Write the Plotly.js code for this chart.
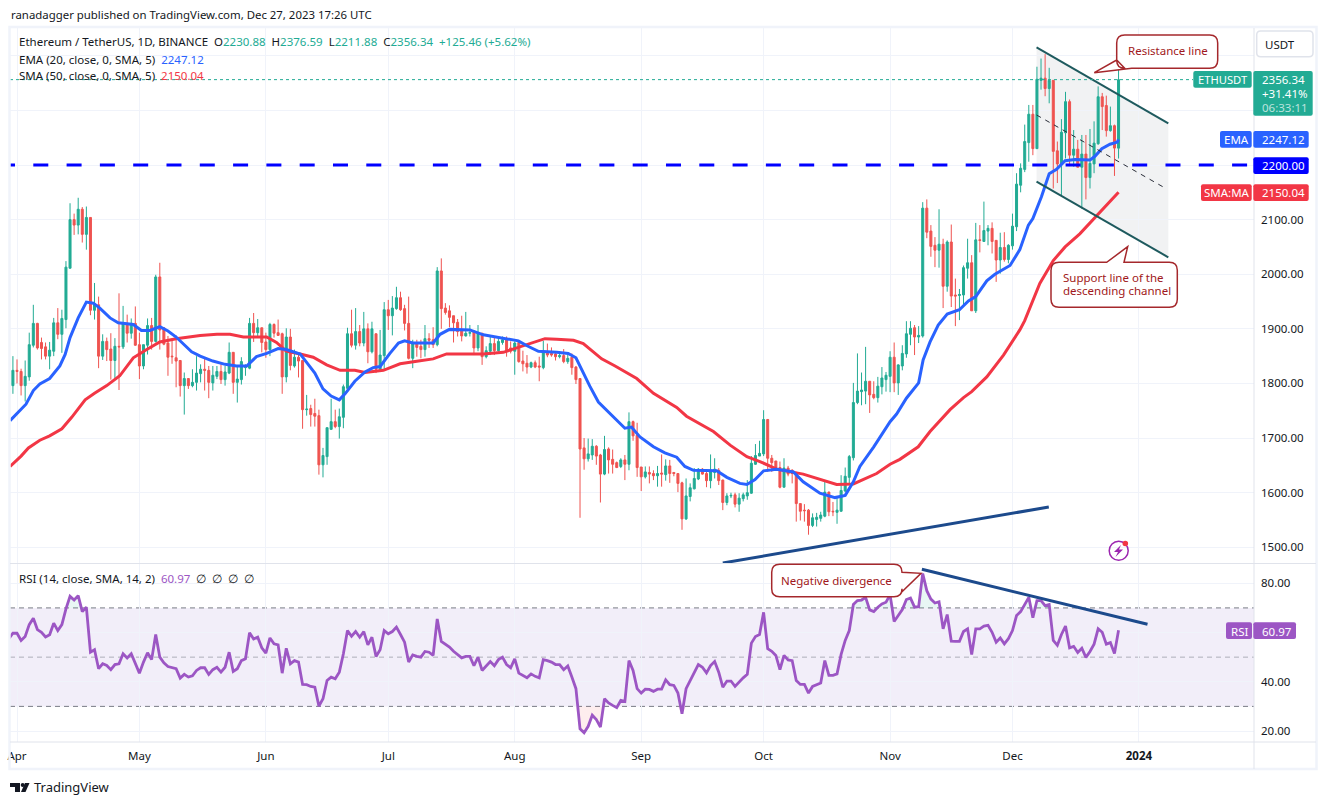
<!DOCTYPE html>
<html>
<head>
<meta charset="utf-8">
<title>ETHUSDT</title>
<script src="https://cdn.plot.ly/plotly-3.0.1.min.js"></script>
<style>
    body { margin: 0; background: #fff; }
</style>
</head>
<body>
<div id="chart"></div>
<script>
// daily candles, first one is Mar 31 2023, last one Dec 27 2023
var firstCandle = '2023-03-31';

var opens = [
    1796,1824,1822,1796,1812,1870,1910,1875,1867,1850,
    1859,1911,1890,1917,2011,2100,2090,2119,2073,2104,
    1934,1944,1850,1877,1863,1842,1868,1867,1910,1892,
    1910,1871,1832,1870,1906,1877,1995,1902,1874,1850,
    1847,1842,1796,1809,1796,1802,1818,1826,1824,1801,
    1813,1822,1807,1819,1857,1802,1807,1829,1828,1910,
    1893,1902,1876,1862,1908,1893,1891,1812,1885,1832,
    1848,1842,1752,1754,1745,1741,1651,1666,1716,1730,
    1721,1738,1791,1891,1870,1895,1874,1900,1858,1891,
    1826,1851,1935,1924,1937,1957,1937,1910,1846,1873,
    1868,1862,1882,1880,1871,2006,1938,1933,1924,1912,
    1897,1887,1892,1896,1865,1892,1849,1859,1873,1860,
    1875,1882,1865,1859,1875,1841,1837,1830,1838,1832,
    1829,1857,1855,1854,1849,1851,1840,1848,1830,1809,
    1682,1662,1669,1685,1669,1634,1680,1661,1655,1648,
    1660,1652,1730,1705,1647,1629,1637,1635,1631,1636,
    1633,1649,1637,1635,1618,1552,1593,1607,1625,1643,
    1635,1622,1637,1641,1623,1582,1594,1596,1579,1589,
    1594,1599,1652,1667,1671,1734,1663,1658,1646,1610,
    1645,1641,1637,1580,1568,1568,1540,1551,1553,1557,
    1601,1566,1564,1566,1603,1628,1664,1765,1785,1786,
    1804,1780,1774,1794,1807,1813,1848,1801,1832,1854,
    1890,1902,1885,1887,2121,2079,2053,2044,2055,1978,
    2059,1962,1961,1962,2011,2021,1933,2063,2060,2079,
    2084,2062,2026,2049,2027,2052,2087,2163,2192,2241,
    2293,2230,2355,2359,2340,2355,2226,2202,2259,2316,
    2218,2229,2196,2220,2177,2202,2239,2325,2309,2263,
    2272,2230.88
];
var highs = [
    1850,1844,1827,1842,1893,1944,1911,1884,1875,1876,
    1920,1938,1935,2024,2130,2111,2140,2123,2124,2104,
    1984,1959,1890,1884,1892,1883,1965,1942,1926,1919,
    1941,1893,1871,1919,1920,1999,2021,1902,1887,1882,
    1888,1843,1820,1809,1826,1850,1835,1847,1832,1832,
    1832,1835,1832,1875,1857,1832,1848,1835,1920,1929,
    1918,1902,1893,1911,1910,1917,1893,1901,1900,1862,
    1857,1842,1779,1761,1772,1752,1682,1719,1772,1752,
    1754,1798,1902,1935,1938,1907,1931,1910,1913,1891,
    1898,1949,1953,1960,1977,1968,1944,1959,1880,1880,
    1880,1907,1892,1903,2013,2029,1947,1943,1924,1918,
    1924,1931,1907,1896,1907,1892,1868,1886,1885,1886,
    1886,1886,1877,1877,1875,1860,1852,1840,1842,1849,
    1878,1873,1866,1857,1857,1863,1855,1855,1832,1809,
    1700,1699,1698,1687,1671,1704,1683,1679,1657,1663,
    1669,1747,1732,1728,1647,1648,1648,1641,1649,1670,
    1661,1660,1637,1635,1620,1626,1617,1645,1645,1645,
    1641,1670,1663,1645,1624,1599,1600,1600,1599,1600,
    1623,1667,1689,1695,1751,1735,1669,1658,1657,1663,
    1649,1643,1638,1580,1579,1570,1562,1563,1565,1623,
    1602,1583,1590,1632,1646,1669,1801,1855,1820,1867,
    1804,1804,1812,1830,1821,1859,1875,1835,1870,1914,
    1914,1907,1905,2132,2137,2090,2068,2119,2065,2062,
    2091,1992,1973,2016,2065,2035,2094,2090,2133,2090,
    2095,2062,2076,2077,2055,2111,2185,2203,2274,2310,
    2310,2380,2395,2403,2378,2355,2243,2284,2334,2320,
    2264,2246,2255,2255,2266,2280,2344,2332,2327,2307,
    2274,2376.59
];
var lows = [
    1781,1800,1778,1767,1805,1866,1862,1844,1844,1826,
    1850,1881,1856,1901,2011,2072,2073,2058,2045,1925,
    1917,1828,1843,1841,1807,1807,1788,1863,1875,1882,
    1869,1808,1826,1853,1862,1875,1862,1870,1814,1836,
    1793,1776,1743,1790,1793,1787,1802,1787,1773,1787,
    1808,1799,1796,1817,1781,1765,1798,1814,1826,1876,
    1884,1857,1847,1850,1884,1887,1781,1802,1824,1829,
    1811,1717,1741,1721,1721,1633,1628,1651,1715,1718,
    1699,1718,1791,1866,1862,1868,1868,1837,1855,1819,
    1825,1825,1898,1888,1935,1933,1897,1844,1828,1849,
    1846,1849,1865,1865,1868,1900,1926,1903,1875,1886,
    1877,1886,1886,1852,1859,1834,1846,1852,1852,1858,
    1871,1849,1855,1816,1838,1822,1818,1828,1828,1804,
    1826,1848,1849,1842,1846,1837,1836,1816,1799,1554,
    1642,1657,1660,1651,1582,1632,1635,1635,1645,1645,
    1623,1641,1695,1629,1603,1626,1617,1623,1611,1611,
    1622,1618,1630,1601,1532,1550,1584,1606,1623,1633,
    1610,1608,1626,1614,1568,1577,1590,1573,1565,1584,
    1587,1598,1651,1667,1667,1638,1638,1641,1608,1610,
    1630,1617,1547,1549,1547,1523,1537,1538,1547,1555,
    1557,1557,1543,1565,1601,1614,1659,1762,1760,1762,
    1746,1771,1765,1780,1785,1784,1784,1779,1824,1847,
    1870,1852,1874,1884,2066,2032,2013,2012,1938,1968,
    1940,1905,1916,1943,1992,1933,1929,2040,2060,2053,
    2038,1986,2001,2023,2020,2045,2079,2150,2187,2206,
    2218,2230,2338,2326,2313,2157,2167,2145,2212,2198,
    2197,2196,2120,2137,2157,2185,2237,2264,2252,2261,
    2180,2211.88
];
var closes = [
    1824,1822,1796,1813,1871,1910,1865,1864,1850,1861,
    1911,1890,1919,2013,2100,2090,2119,2073,2104,1934,
    1946,1850,1877,1862,1842,1868,1867,1910,1892,1910,
    1870,1832,1871,1906,1877,1995,1898,1872,1848,1849,
    1841,1796,1809,1796,1802,1819,1826,1824,1802,1815,
    1822,1807,1821,1857,1802,1808,1840,1832,1910,1893,
    1902,1875,1862,1908,1892,1888,1812,1885,1833,1848,
    1841,1752,1753,1743,1740,1651,1668,1719,1730,1721,
    1739,1794,1891,1870,1895,1874,1900,1858,1900,1826,
    1852,1935,1924,1938,1957,1935,1910,1846,1873,1866,
    1862,1882,1879,1871,2006,1937,1930,1921,1911,1895,
    1887,1892,1893,1865,1892,1849,1860,1873,1860,1877,
    1880,1860,1859,1874,1840,1836,1830,1838,1830,1830,
    1859,1852,1852,1849,1851,1840,1846,1829,1807,1680,
    1662,1671,1685,1667,1634,1679,1660,1652,1646,1660,
    1652,1730,1704,1646,1629,1638,1634,1631,1635,1634,
    1649,1635,1635,1617,1552,1594,1609,1626,1643,1634,
    1622,1638,1643,1622,1582,1594,1595,1579,1590,1596,
    1600,1654,1668,1672,1734,1663,1655,1645,1610,1645,
    1634,1635,1580,1566,1567,1540,1554,1555,1559,1601,
    1565,1565,1568,1604,1630,1666,1765,1786,1788,1804,
    1779,1774,1795,1810,1815,1848,1801,1834,1855,1891,
    1901,1885,1888,2121,2077,2051,2044,2055,1978,2059,
    1960,1960,1963,2012,2021,1933,2063,2062,2080,2084,
    2060,2026,2049,2027,2053,2088,2165,2194,2243,2293,
    2230,2357,2359,2340,2355,2225,2202,2260,2316,2218,
    2229,2196,2220,2177,2203,2240,2325,2307,2263,2272,
    2231,2356.34
];

// rsi, one value per day, starts one day before the first candle
var rsiValues = [
    57.5,59.7,59.7,56.8,58.4,63.2,65.8,61.2,60.1,58.2,
    59.1,63.8,60.8,63.2,69.6,74.7,73.2,75,68.5,70.3,
    52,53,45.3,47.3,46.6,44.9,47,47.3,51.4,49.7,
    51.4,47.3,43.5,48,51.8,49,59.2,50,47.7,46.2,
    45.9,45.3,41.5,43,41.9,42.4,44.6,45.7,45.7,43,
    44.9,45.9,43.9,45.9,52,44.2,45.3,48.6,49.3,59.9,
    57.4,58.1,53.8,51.6,57.8,55.4,55,43.5,53.6,47.3,
    48.6,48,38.9,38.8,38.1,37.8,30.1,33.1,40.5,41.9,
    41.2,43.9,51.4,60.8,58.5,60.4,58.1,60.4,55,58.1,
    50.3,53,60.8,59.5,60.4,62.2,59.2,56.1,48,50.9,
    50.3,50,52.3,52,50.7,65.5,56.4,55.4,54.1,52.4,
    50.9,49.7,50.3,50.3,46.5,50,44.6,46.2,48.2,46.5,
    49,50,47,45.7,49.3,43.5,42.6,41.6,43.2,42.2,
    41.6,49,48.6,48,47,47,44.9,46.4,41.9,37.2,
    20.9,19.3,21.9,26.4,24.6,21.6,33.1,31.4,30.4,29.5,
    32.4,32,48.6,44.6,37.2,35.4,37,36.9,36.1,37,
    37,40.8,38.8,38.5,35.4,27,37.2,40.3,43.9,47,
    45.9,43.6,46.6,48.2,43.9,37.8,40.3,40.3,38.1,39.9,
    41.6,43,55.7,58.4,59.2,68.2,53.4,52.4,50.7,44.9,
    50.7,48.9,48.6,40.5,38.9,38.9,35.4,38.1,38.8,39.5,
    48.6,42.6,42.6,43.2,51.1,56.8,60.8,71.4,73,73.2,
    74.3,69.2,68.5,70.3,71.6,72.3,75.3,64.5,66.9,69.3,
    73.4,74,70.3,70.5,84,77,73.6,72,72.5,61.5,
    67.3,56.5,56.4,56.4,60.4,61.5,51.1,61.5,61.5,62.6,
    62.9,60.1,56.1,57.8,55.4,57.5,60.8,66.9,68.5,71.4,
    74.3,66,73,73,70.9,71.4,56.8,54.8,59.2,62.6,
    53.8,54.4,51.9,53.6,49.9,52.3,55.3,61.5,60.1,55.3,
    55.9,51.5,60.97
];

// moving averages read at the turning points, day = days after Apr 1
var emaDays = [
    -1.7,0.7,2.2,4,5.6,8,10.5,11.8,13,15,17,18.7,20.3,22.8,24.8,28.5,30.5,32.6,35,37,
    39,42.8,44.9,48,51,53.8,56.3,58.7,61.2,64,66,69.4,73,75,77,79,80.4,82.8,85.3,87.3,
    89,91.4,93.5,95,97,102,103.7,106,111,114.3,119.2,122.9,125,127.8,132.3,135.1,137,138.8,140.4,142.5,
    145.3,149,150.6,152.7,156,158.8,161.7,163.7,165.8,171.5,174,177.2,178.9,180.9,183,186.2,190.3,192.7,196.8,200.5,
    203,205,206.6,210,214,215.6,218,221,222.1,223.8,225.8,228,231,233.2,235,237.7,239.7,243.4,245.8,247.9,
    249,251.1,253,254.8,256.9,259.3,263,264.2,265.9,267.9,269.7,270
];
var emaValues = [
    1732,1750,1762,1787,1799,1809,1832,1853,1884,1920,1949,1947,1938,1920,1911,1908,1897,1897,1904,1896,
    1885,1858,1850,1841,1835,1832,1832,1849,1855,1864,1862,1854,1819,1790,1777,1770,1781,1804,1821,1829,
    1831,1855,1874,1878,1874,1874,1890,1899,1898,1889,1883,1878,1869,1859,1857,1855,1847,1819,1795,1766,
    1745,1718,1720,1702,1684,1673,1665,1648,1641,1640,1628,1617,1615,1624,1640,1643,1638,1620,1599,1591,
    1595,1620,1648,1684,1730,1744,1773,1801,1843,1876,1907,1927,1935,1951,1959,1988,2000,2016,2045,2090,
    2102,2142,2184,2192,2208,2210,2209,2216,2230,2238,2242,2247.12
];
var smaDays = [
    -1.7,1,2.8,5.6,8,11,13.4,16.7,19,22,25.2,28.5,31.8,35,39,44.9,49,52.2,55.5,61.2,
    63.6,66,69.4,72.6,75.9,79.2,82.8,85.3,89.8,93.9,98.4,102,105.3,109.4,114.3,119.2,122.5,125.7,129.4,132.3,
    136.4,138.8,140.4,143.3,146.6,149,151.9,156,161.7,164.1,170.7,174.8,178.9,182.1,186.2,192.7,197.6,200.9,205,210.7,
    214,216.4,220.9,223.8,228.7,232,234,237.7,241.8,245.8,247,250.7,254,256.9,260.5,264.6,267.9,270
];
var smaValues = [
    1648,1667,1682,1696,1704,1717,1738,1770,1782,1796,1814,1847,1862,1876,1882,1888,1890,1890,1885,1885,
    1875,1859,1854,1848,1834,1824,1824,1820,1824,1836,1841,1845,1854,1854,1854,1857,1865,1873,1882,1881,
    1879,1873,1863,1845,1832,1821,1809,1782,1756,1740,1712,1687,1666,1657,1643,1634,1623,1615,1616,1635,
    1652,1661,1684,1712,1752,1774,1785,1812,1852,1898,1915,1983,2025,2050,2074,2107,2135,2150.04
];

var priceTicks = [1500,1600,1700,1800,1900,2000,2100,2200,2300,2400];
var priceTickText = ['1500.00','1600.00','1700.00','1800.00','1900.00','2000.00','2100.00','','',''];
var rsiTicks = [20,40,60,80];
var rsiTickText = ['20.00','40.00','','80.00'];
var monthTicks = ['2023-04-01','2023-05-01','2023-06-01','2023-07-01','2023-08-01','2023-09-01','2023-10-01','2023-11-01','2023-12-01','2024-01-01'];
var monthText = ['Apr','May','Jun','Jul','Aug','Sep','Oct','Nov','Dec','<b>2024</b>'];

var W = 1327, H = 805;
var FONT = '"Noto Sans", sans-serif';
var TXT = '#131722', UP = '#22ab94', DOWN = '#ef5350', EMA = '#2962ff', SMA = '#f23645', RSI = '#9c56c4';
var CALLOUT = '#a5282c', GRID = '#f0f3fa', EDGE = '#e0e3eb';

function dayToDate(d) {
    return new Date(Date.UTC(2023, 3, 1) + d * 86400000).toISOString().slice(0, 16).replace('T', ' ');
}
function daysFrom(start, n) {
    var out = [], t = Date.parse(start + 'T00:00:00Z');
    for (var i = 0; i < n; i++) {
        out.push(new Date(t + i * 86400000).toISOString().slice(0, 10));
    }
    return out;
}

var candleDates = daysFrom(firstCandle, closes.length);
var rsiDates = daysFrom('2023-03-30', rsiValues.length);

// pixel helpers for the drawing tools, all in paper coords
function pt(x, y) { return (x / W).toFixed(5) + ',' + (1 - y / H).toFixed(5); }

function boxPath(x0, y0, x1, y1, r, extra) {
    extra = extra || {};
    var p = 'M' + pt(x0 + r, y0);
    (extra.top || []).forEach(function (q) { p += ' L' + pt(q[0], q[1]); });
    p += ' L' + pt(x1 - r, y0) + ' Q' + pt(x1, y0) + ' ' + pt(x1, y0 + r);
    (extra.right || []).forEach(function (q) { p += ' L' + pt(q[0], q[1]); });
    p += ' L' + pt(x1, y1 - r) + ' Q' + pt(x1, y1) + ' ' + pt(x1 - r, y1);
    (extra.bottom || []).forEach(function (q) { p += ' L' + pt(q[0], q[1]); });
    p += ' L' + pt(x0 + r, y1) + ' Q' + pt(x0, y1) + ' ' + pt(x0, y1 - r);
    (extra.left || []).forEach(function (q) { p += ' L' + pt(q[0], q[1]); });
    p += ' L' + pt(x0, y0 + r) + ' Q' + pt(x0, y0) + ' ' + pt(x0 + r, y0) + ' Z';
    return p;
}
function paperShape(path, fill, lineColor, lineWidth) {
    return {
        type: 'path', xref: 'paper', yref: 'paper', path: path, fillcolor: fill, layer: 'above',
        line: {color: lineColor || fill, width: lineWidth === undefined ? 0 : lineWidth}
    };
}
function circle(cx, cy, r, fill, lineColor, lineWidth) {
    return {
        type: 'circle', xref: 'paper', yref: 'paper', layer: 'above', fillcolor: fill,
        x0: (cx - r) / W, x1: (cx + r) / W, y0: 1 - (cy + r) / H, y1: 1 - (cy - r) / H,
        line: {color: lineColor || fill, width: lineWidth || 0}
    };
}
function text(x, y, str, size, color, anchor, extra) {
    var a = {
        xref: 'paper', yref: 'paper', x: x / W, y: 1 - y / H, text: str, showarrow: false,
        xanchor: anchor || 'left', yanchor: 'middle', borderpad: 0,
        font: {family: FONT, size: size, color: color || TXT}
    };
    return Object.assign(a, extra || {});
}
function span(color, str) { return '<span style="color:' + color + '">' + str + '</span>'; }

var traces = [
    {
        type: 'candlestick', x: candleDates, open: opens, high: highs, low: lows, close: closes,
        xaxis: 'x', yaxis: 'y', whiskerwidth: 0, hoverinfo: 'skip',
        increasing: {line: {color: UP, width: 1}, fillcolor: UP},
        decreasing: {line: {color: DOWN, width: 1}, fillcolor: DOWN}
    },
    // 2200 level, starts left of the pane so the dashes fall right
    {
        type: 'scatter', mode: 'lines', x: [dayToDate(-4.17), dayToDate(303.2)], y: [2200, 2200],
        xaxis: 'x', yaxis: 'y', hoverinfo: 'skip',
        line: {color: '#0000ff', width: 3, dash: '15px,18.3px'}
    },
    {
        type: 'scatter', mode: 'lines', x: smaDays.map(dayToDate), y: smaValues,
        xaxis: 'x', yaxis: 'y', hoverinfo: 'skip', line: {color: SMA, width: 3}
    },
    {
        type: 'scatter', mode: 'lines', x: emaDays.map(dayToDate), y: emaValues,
        xaxis: 'x', yaxis: 'y', hoverinfo: 'skip', line: {color: EMA, width: 3}
    },
    // pale fill where rsi leaves the 30-70 band
    {
        type: 'scatter', mode: 'lines', x: rsiDates, y: rsiValues.map(function () { return 70; }),
        xaxis: 'x', yaxis: 'y2', hoverinfo: 'skip', line: {width: 0}
    },
    {
        type: 'scatter', mode: 'lines', x: rsiDates, y: rsiValues.map(function (v) { return Math.max(v, 70); }),
        xaxis: 'x', yaxis: 'y2', hoverinfo: 'skip', line: {width: 0}, fill: 'tonexty', fillcolor: 'rgba(34,171,148,0.1)'
    },
    {
        type: 'scatter', mode: 'lines', x: rsiDates, y: rsiValues.map(function () { return 30; }),
        xaxis: 'x', yaxis: 'y2', hoverinfo: 'skip', line: {width: 0}
    },
    {
        type: 'scatter', mode: 'lines', x: rsiDates, y: rsiValues.map(function (v) { return Math.min(v, 30); }),
        xaxis: 'x', yaxis: 'y2', hoverinfo: 'skip', line: {width: 0}, fill: 'tonexty', fillcolor: 'rgba(242,54,69,0.09)'
    },
    {
        type: 'scatter', mode: 'lines', x: rsiDates, y: rsiValues,
        xaxis: 'x', yaxis: 'y2', hoverinfo: 'skip', line: {color: RSI, width: 2.8}
    }
];

function hLine(yref, value, color, dash) {
    return {
        type: 'line', xref: 'x domain', yref: yref, x0: 0, x1: 1, y0: value, y1: value, layer: 'below',
        line: {color: color, width: 1, dash: dash}
    };
}
function trendLine(yref, d0, v0, d1, v1, color, width, dash) {
    return {
        type: 'line', xref: 'x', yref: yref, layer: 'above',
        x0: dayToDate(d0), y0: v0, x1: dayToDate(d1), y1: v1,
        line: {color: color, width: width, dash: dash || 'solid'}
    };
}
function channelPath() {
    var fmt = function (d, v) { return dayToDate(d).replace(' ', '_') + ':00,' + v; };
    return 'M' + fmt(249.9, 2415.5) + ' L' + fmt(282.2, 2276.4) + ' L' + fmt(282.2, 2031) + ' L' + fmt(249.9, 2169.4) + ' Z';
}

var shapes = [
    // rsi band
    {type: 'rect', xref: 'x domain', yref: 'y2', x0: 0, x1: 1, y0: 30, y1: 70, layer: 'below', fillcolor: 'rgba(126,87,194,0.1)', line: {width: 0}},
    hLine('y2', 70, '#787b86', '5px,4px'),
    hLine('y2', 50, 'rgba(120,123,134,0.55)', '5px,4px'),
    hLine('y2', 30, '#787b86', '5px,4px'),
    // descending channel
    {type: 'path', xref: 'x', yref: 'y', path: channelPath(), layer: 'below', fillcolor: 'rgba(120,130,140,0.1)', line: {width: 0}},
    trendLine('y', 249.9, 2415.5, 282.2, 2276.4, '#1e5a5e', 2),
    trendLine('y', 249.9, 2169.4, 282.2, 2031, '#1e5a5e', 2),
    trendLine('y', 249.9, 2291.6, 281.7, 2156.6, '#2a2e39', 1, '5px,5px'),
    // navy trend lines
    trendLine('y', 173, 1471.2, 252.9, 1573.8, '#1c4a8c', 3),
    trendLine('y2', 221.8, 85.7, 277.1, 63.35, '#1c4a8c', 3),
    // last price dotted line
    {type: 'line', xref: 'x domain', yref: 'y', x0: 0, x1: 0.951, y0: 2356.34, y1: 2356.34, layer: 'above', line: {color: UP, width: 1, dash: 'dot'}},
    // frame
    {type: 'rect', xref: 'paper', yref: 'paper', x0: 9.5 / W, x1: 1316.5 / W, y0: 1 - 769 / H, y1: 1 - 27 / H, layer: 'above', line: {color: GRID, width: 2.5}},
    {type: 'line', xref: 'paper', yref: 'paper', x0: 1254 / W, x1: 1254 / W, y0: 1 - 769 / H, y1: 1 - 28 / H, layer: 'above', line: {color: EDGE, width: 1}},
    {type: 'line', xref: 'paper', yref: 'paper', x0: 10 / W, x1: 1316 / W, y0: 1 - 563.5 / H, y1: 1 - 563.5 / H, layer: 'above', line: {color: EDGE, width: 1}},
    {type: 'line', xref: 'paper', yref: 'paper', x0: 10 / W, x1: 1316 / W, y0: 1 - 742 / H, y1: 1 - 742 / H, layer: 'above', line: {color: EDGE, width: 1}},
    // callouts
    paperShape(boxPath(1116.7, 35, 1217.7, 68.3, 8, {bottom: [[1131.7, 68.3], [1094.3, 72.7], [1116.7, 60]]}), '#ffffff', CALLOUT, 1.5),
    paperShape(boxPath(1051, 262.3, 1177.3, 307.3, 8, {top: [[1106.7, 262.3], [1127.7, 246.7], [1124, 262.3]]}), '#ffffff', CALLOUT, 1.5),
    paperShape(boxPath(771.7, 564.3, 902, 596.7, 8, {right: [[902, 572.3], [921, 573.3], [902, 591.7]]}), '#ffffff', CALLOUT, 1.5),
    // price scale labels
    paperShape(boxPath(1256.7, 31, 1313, 56.7, 4), '#ffffff', EDGE, 1.5),
    paperShape(boxPath(1193.3, 71, 1251.7, 87.7, 2), UP),
    paperShape(boxPath(1253.3, 71, 1312.7, 115.7, 2), UP),
    paperShape(boxPath(1220, 131, 1251.7, 147.7, 2), EMA),
    paperShape(boxPath(1253.3, 131, 1308.7, 147.7, 2), EMA),
    paperShape(boxPath(1253.3, 157.3, 1308.7, 174, 2), '#0000ff'),
    paperShape(boxPath(1201, 184.3, 1251.7, 201, 2), SMA),
    paperShape(boxPath(1253.3, 184.3, 1308.7, 201, 2), SMA),
    paperShape(boxPath(1226, 622.3, 1252, 639, 2), RSI),
    paperShape(boxPath(1253.3, 622.3, 1296, 639, 2), RSI),
    // alert icon
    circle(1118.7, 550.7, 9.5, 'rgba(0,0,0,0)', '#9c27b0', 1.5),
    paperShape('M' + pt(1121, 545) + ' L' + pt(1114, 552) + ' L' + pt(1118, 552) + ' L' + pt(1115.5, 557) + ' L' + pt(1123, 549.5) + ' L' + pt(1119, 549.5) + ' Z', '#9c27b0'),
    circle(1125.3, 543.5, 2.8, '#f23645'),
    // logo
    paperShape('M' + pt(10, 783) + ' L' + pt(20, 783) + ' L' + pt(20, 792) + ' L' + pt(15, 792) + ' L' + pt(15, 787) + ' L' + pt(10, 787) + ' Z', TXT),
    circle(22.7, 785, 2, TXT),
    paperShape('M' + pt(25, 783) + ' L' + pt(29.5, 783) + ' L' + pt(25.5, 792) + ' L' + pt(21, 792) + ' Z', TXT)
];

var annotations = [
    text(10, 14, 'ranadagger published on TradingView.com, Dec 27, 2023 17:26 UTC', 11.4, TXT),
    text(18, 41, 'Ethereum / TetherUS, 1D, BINANCE  O' + span(UP, '2230.88') + '  H' + span(UP, '2376.59') + '  L' + span(UP, '2211.88') + '  C' + span(UP, '2356.34') + '  ' + span(UP, '+125.46 (+5.62%)'), 11.5, TXT),
    text(18, 59, 'EMA (20, close, 0, SMA, 5)  ' + span(EMA, '2247.12'), 11.5, TXT),
    text(18, 76, 'SMA (50, close, 0, SMA, 5)  ' + span(SMA, '2150.04'), 11.5, TXT),
    text(18, 578, 'RSI (14, close, SMA, 14, 2)  ' + span(RSI, '60.97') + '  ' + span('#131722', '∅  ∅  ∅  ∅'), 11.5, TXT),
    text(1168, 50.5, 'Resistance line', 11.5, '#a01820', 'center'),
    text(1061.5, 278, 'Support line of the', 11.5, '#a01820'),
    text(1061.5, 290, 'descending channel', 11.5, '#a01820'),
    text(836, 580, 'Negative divergence', 11.5, '#a01820', 'center'),
    text(1280, 44.5, 'USDT', 11.5, TXT, 'center'),
    text(1222.5, 79.5, 'ETHUSDT', 11.2, '#ffffff', 'center'),
    text(1261, 80, '2356.34', 11.5, '#ffffff'),
    text(1261, 94, '+31.41%', 11.5, '#ffffff'),
    text(1261, 108, '06:33:11', 11.5, 'rgba(255,255,255,0.7)'),
    text(1236, 139.5, 'EMA', 11.5, '#ffffff', 'center'),
    text(1261, 139.5, '2247.12', 11.5, '#ffffff'),
    text(1261, 165.5, '2200.00', 11.5, '#ffffff'),
    text(1226.5, 193, 'SMA:MA', 11.5, '#ffffff', 'center'),
    text(1261, 193, '2150.04', 11.5, '#ffffff'),
    text(1239, 631, 'RSI', 11.5, '#ffffff', 'center'),
    text(1261, 631, '60.97', 11.5, '#ffffff'),
    text(33, 787, 'TradingView', 13, TXT)
];

var layout = {
    width: W, height: H, margin: {l: 0, r: 0, t: 0, b: 0},
    paper_bgcolor: '#ffffff', plot_bgcolor: '#ffffff',
    showlegend: false, hovermode: false, dragmode: false,
    font: {family: FONT, size: 11.5, color: TXT},
    xaxis: {
        type: 'date', domain: [10 / W, 1254 / W], anchor: 'y2',
        range: [dayToDate(-1.716), dayToDate(303.2)],
        rangeslider: {visible: false},
        tickmode: 'array', tickvals: monthTicks, ticktext: monthText, ticks: '',
        showline: false, zeroline: false, showgrid: true, gridcolor: GRID, gridwidth: 1,
        tickfont: {family: FONT, size: 11.5, color: TXT}, ticklabelstandoff: 5
    },
    yaxis: {
        domain: [1 - 563 / H, 1 - 28 / H], anchor: 'x', side: 'right',
        range: [1471.2, 2450.9],
        tickmode: 'array', tickvals: priceTicks, ticktext: priceTickText, ticks: '',
        showline: false, zeroline: false, showgrid: true, gridcolor: GRID, gridwidth: 1,
        tickfont: {family: FONT, size: 11.5, color: TXT}, ticklabelstandoff: 6
    },
    yaxis2: {
        domain: [1 - 742 / H, 1 - 564 / H], anchor: 'x', side: 'right',
        range: [15.53, 87.84],
        tickmode: 'array', tickvals: rsiTicks, ticktext: rsiTickText, ticks: '',
        showline: false, zeroline: false, showgrid: true, gridcolor: GRID, gridwidth: 1,
        tickfont: {family: FONT, size: 11.5, color: TXT}, ticklabelstandoff: 6
    },
    shapes: shapes,
    annotations: annotations
};

Plotly.newPlot('chart', traces, layout, {displayModeBar: false, staticPlot: true});
</script>
</body>
</html>
